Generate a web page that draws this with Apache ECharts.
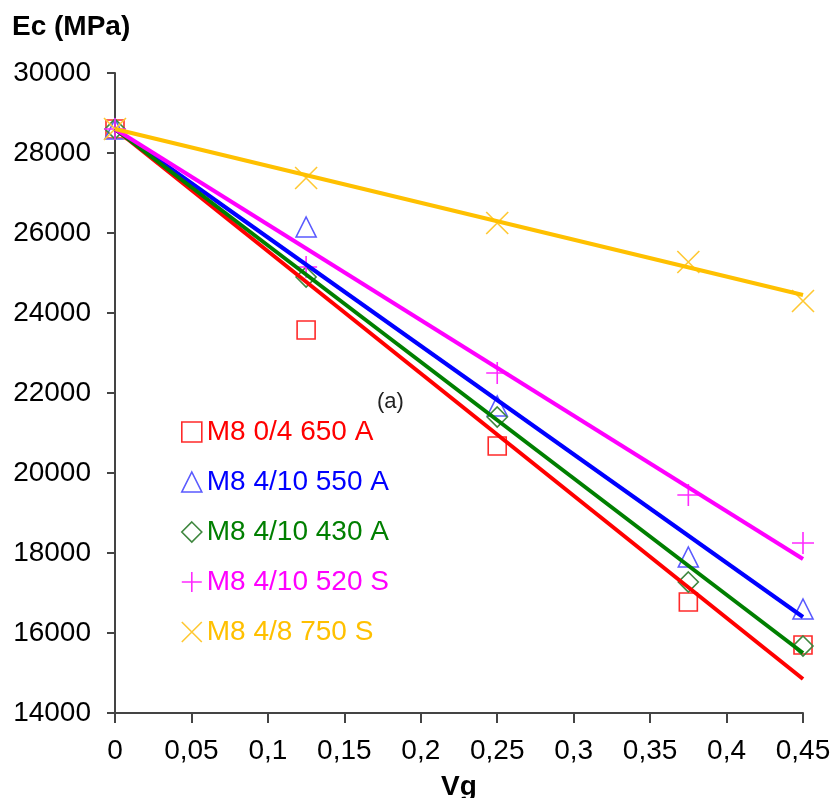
<!DOCTYPE html>
<html>
<head>
<meta charset="utf-8">
<script src="https://cdn.jsdelivr.net/npm/echarts@6/dist/echarts.min.js"></script>
<style>
  html, body { margin: 0; padding: 0; background: #fff; }
  #chart { width: 837px; height: 798px; }
</style>
</head>
<body>
<div id="chart"></div>
<script>
// data
var vg = [0, 0.125, 0.25, 0.375, 0.45];
var names = ['M8 0/4 650 A', 'M8 4/10 550 A', 'M8 4/10 430 A', 'M8 4/10 520 S', 'M8 4/8 750 S'];
var m8_04_650A = [28600, 23575, 20675, 16775, 15700];
var m8_410_550A = [28600, 26150, 21675, 17900, 16600];
var m8_410_430A = [28600, 24900, 21400, 17275, 15675];
var m8_410_520S = [28600, 25150, 22500, 19450, 18250];
var m8_48_750S = [28600, 27375, 26250, 25275, 24300];
// trend lines: value at Vg = 0 and at Vg = 0.45
var trendX = [0, 0.45];
var trendStart = [28600, 28600, 28600, 28600, 28600];
var trendEnd = [14850, 16400, 15500, 17850, 24450];
var yTicks = [14000, 30000, 2000];
var xTicks = [0, 0.45, 0.05];

var values = [m8_04_650A, m8_410_550A, m8_410_430A, m8_410_520S, m8_48_750S];
var lineColors = ['#ff0000', '#0000ff', '#007f00', '#ff00ff', '#ffc000'];
var markColors = ['#ff2a2a', '#5a5aff', '#3f873f', '#ff2aff', '#ffc832'];
var textColors = ['#ff0000', '#0000ff', '#007f00', '#ff00ff', '#ffc000'];
var symbols = [
    'rect',
    'triangle',
    'diamond',
    'path://M0,10L20,10M10,0L10,20',
    'path://M0,0L20,20M20,0L0,20'
];
var sizes = [18, 20, 20, 22, 22];
var font = 'Liberation Sans, Arial, sans-serif';

var series = [];
var legendData = [];
for (var i = 0; i < names.length; i++) {
    series.push({
        name: 'trend ' + i,
        type: 'line',
        data: [[trendX[0], trendStart[i]], [trendX[1], trendEnd[i]]],
        symbol: 'none',
        lineStyle: { color: lineColors[i], width: 4 },
        z: 3,
        silent: true
    });
    series.push({
        name: names[i],
        type: 'scatter',
        data: vg.map(function (x, k) { return [x, values[i][k]]; }),
        symbol: symbols[i],
        symbolSize: sizes[i],
        itemStyle: { color: 'rgba(0,0,0,0)', borderColor: markColors[i], borderWidth: 1.6, opacity: 1 },
        z: 2
    });
    legendData.push({
        name: names[i],
        icon: symbols[i],
        itemStyle: { color: 'rgba(0,0,0,0)', borderColor: markColors[i], borderWidth: 1.6 },
        textStyle: { color: textColors[i] }
    });
}

var chart = echarts.init(document.getElementById('chart'));
chart.setOption({
    animation: false,
    backgroundColor: '#fff',
    textStyle: { fontFamily: font },
    grid: { left: 115, right: 34, top: 73, bottom: 85, containLabel: false, outerBoundsMode: 'none' },
    legend: {
        orient: 'vertical',
        left: 176,
        top: 413,
        itemWidth: 20,
        itemHeight: 20,
        itemGap: 22,
        selectedMode: false,
        textStyle: { fontSize: 28, fontFamily: font, padding: [0, 0, 0, 0] },
        data: legendData
    },
    xAxis: {
        type: 'value',
        min: xTicks[0],
        max: xTicks[1],
        interval: xTicks[2],
        name: 'Vg',
        nameLocation: 'middle',
        nameGap: 60,
        nameTextStyle: { fontSize: 28, fontWeight: 'bold', color: '#000' },
        axisLine: { show: true, lineStyle: { color: '#444', width: 2 } },
        axisTick: { show: true, length: 10, lineStyle: { color: '#444', width: 2 } },
        splitLine: { show: false },
        axisLabel: {
            margin: 24,
            fontSize: 28,
            color: '#000',
            formatter: function (v) {
                return String(Math.round(v * 100) / 100).replace('.', ',');
            }
        }
    },
    yAxis: {
        type: 'value',
        min: yTicks[0],
        max: yTicks[1],
        interval: yTicks[2],
        axisLine: { show: true, lineStyle: { color: '#444', width: 2 } },
        axisTick: { show: true, length: 8, lineStyle: { color: '#444', width: 2 } },
        splitLine: { show: false },
        axisLabel: {
            margin: 24,
            fontSize: 28,
            color: '#000',
            formatter: function (v) { return String(v); }
        }
    },
    graphic: [
        {
            type: 'text',
            left: 12,
            top: 13,
            style: { text: 'Ec (MPa)', fontSize: 28, fontWeight: 'bold', fill: '#000', fontFamily: font }
        },
        {
            type: 'text',
            left: 377,
            top: 391,
            style: { text: '(a)', fontSize: 22, fill: '#222', fontFamily: font }
        }
    ],
    series: series
});
</script>
</body>
</html>
